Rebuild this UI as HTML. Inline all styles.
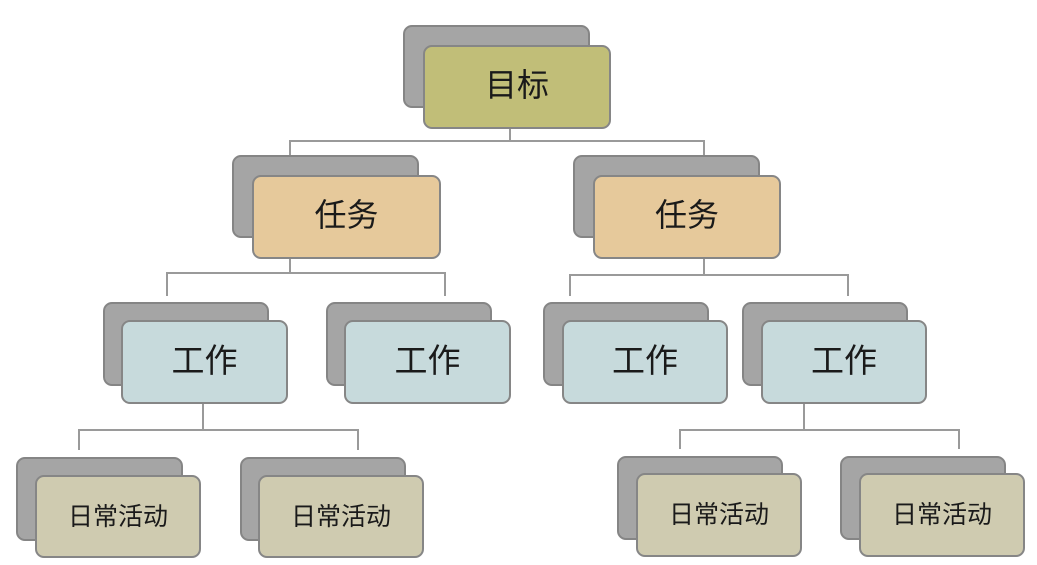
<!DOCTYPE html>
<html><head><meta charset="utf-8"><style>
body{margin:0;width:1037px;height:565px;background:#fff;position:relative;overflow:hidden;font-family:"Liberation Sans","Noto Sans CJK SC",sans-serif;}
.b{position:absolute;box-sizing:border-box;border:2px solid #858585;border-radius:9px;background:#a5a5a5;}
.f{position:absolute;box-sizing:border-box;border:2px solid #868686;border-radius:9px;display:flex;align-items:center;justify-content:center;color:#1a1a1a;padding-bottom:9px;}
.l{position:absolute;background:#9a9a9a;}
.g{background:#c1be78;font-size:32px;}
.t{background:#e6c99b;font-size:32px;}
.w{background:#c7dadc;font-size:33px;}
.d{background:#cfcbb0;font-size:25px;padding-bottom:4px;}
</style></head><body>
<div class="l" style="left:509px;top:128px;width:2px;height:14px"></div>
<div class="l" style="left:289px;top:140px;width:416px;height:2px"></div>
<div class="l" style="left:289px;top:140px;width:2px;height:16px"></div>
<div class="l" style="left:703px;top:140px;width:2px;height:16px"></div>

<div class="l" style="left:289px;top:258px;width:2px;height:16px"></div>
<div class="l" style="left:166px;top:272px;width:280px;height:2px"></div>
<div class="l" style="left:166px;top:272px;width:2px;height:24px"></div>
<div class="l" style="left:444px;top:272px;width:2px;height:24px"></div>

<div class="l" style="left:703px;top:258px;width:2px;height:17px"></div>
<div class="l" style="left:569px;top:274px;width:280px;height:2px"></div>
<div class="l" style="left:569px;top:274px;width:2px;height:22px"></div>
<div class="l" style="left:847px;top:274px;width:2px;height:22px"></div>

<div class="l" style="left:202px;top:403px;width:2px;height:28px"></div>
<div class="l" style="left:78px;top:429px;width:281px;height:2px"></div>
<div class="l" style="left:78px;top:429px;width:2px;height:21px"></div>
<div class="l" style="left:357px;top:429px;width:2px;height:21px"></div>

<div class="l" style="left:803px;top:403px;width:2px;height:28px"></div>
<div class="l" style="left:679px;top:429px;width:281px;height:2px"></div>
<div class="l" style="left:679px;top:429px;width:2px;height:20px"></div>
<div class="l" style="left:958px;top:429px;width:2px;height:20px"></div>

<div class="b" style="left:403px;top:25px;width:187px;height:83px"></div>
<div class="f g" style="left:423px;top:45px;width:188px;height:84px">目标</div>
<div class="b" style="left:232px;top:155px;width:187px;height:83px"></div>
<div class="f t" style="left:252px;top:175px;width:189px;height:84px">任务</div>
<div class="b" style="left:573px;top:155px;width:187px;height:83px"></div>
<div class="f t" style="left:593px;top:175px;width:188px;height:84px">任务</div>
<div class="b" style="left:103px;top:302px;width:166px;height:84px"></div>
<div class="f w" style="left:121px;top:320px;width:167px;height:84px">工作</div>
<div class="b" style="left:326px;top:302px;width:166px;height:84px"></div>
<div class="f w" style="left:344px;top:320px;width:167px;height:84px">工作</div>
<div class="b" style="left:543px;top:302px;width:166px;height:84px"></div>
<div class="f w" style="left:562px;top:320px;width:166px;height:84px">工作</div>
<div class="b" style="left:742px;top:302px;width:166px;height:84px"></div>
<div class="f w" style="left:761px;top:320px;width:166px;height:84px">工作</div>
<div class="b" style="left:16px;top:457px;width:167px;height:84px"></div>
<div class="f d" style="left:35px;top:475px;width:166px;height:83px">日常活动</div>
<div class="b" style="left:240px;top:457px;width:166px;height:84px"></div>
<div class="f d" style="left:258px;top:475px;width:166px;height:83px">日常活动</div>
<div class="b" style="left:617px;top:456px;width:166px;height:84px"></div>
<div class="f d" style="left:636px;top:473px;width:166px;height:84px">日常活动</div>
<div class="b" style="left:840px;top:456px;width:166px;height:84px"></div>
<div class="f d" style="left:859px;top:473px;width:166px;height:84px">日常活动</div>
</body></html>
